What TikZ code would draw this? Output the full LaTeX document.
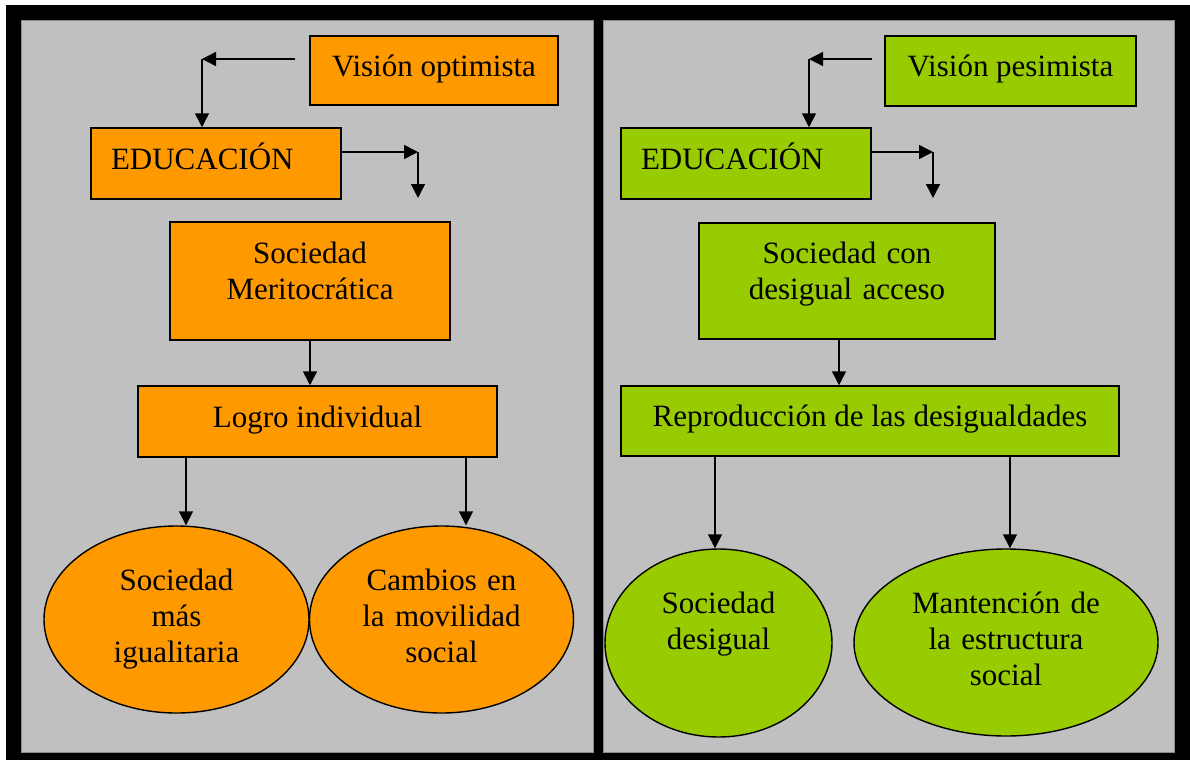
\documentclass[tikz,border=0pt]{standalone}
\usepackage{fontspec}
\setmainfont{Liberation Serif}
\usetikzlibrary{arrows.meta,shapes.geometric,calc}
\definecolor{orng}{HTML}{FF9900}
\definecolor{grn}{HTML}{99CC00}
\definecolor{panel}{HTML}{C0C0C0}
\definecolor{paneledge}{HTML}{8A8A8A}
\begin{document}
\begin{tikzpicture}[x=1pt,y=-1pt,
  every node/.style={font=\fontsize{31}{36}\selectfont, inner sep=0pt, text height=22pt},
  box/.style={draw=black, line width=1.5pt, rectangle},
  oval/.style={draw=black, line width=1.4pt, ellipse},
  arr/.style={draw=black, line width=1.5pt, -{Triangle[length=14pt,width=14pt]}},
  one/.style={text depth=11pt},
  lefttext/.style={inner xsep=20pt, text width=210pt, align=left}
]
\useasboundingbox (0,0) rectangle (1190,760);
\fill[white] (0,0) rectangle (1190,760);
\fill[black] (6,5) rectangle (1190,760);
\draw[paneledge, line width=0.8pt, fill=panel] (21,20) rectangle (593,752);
\draw[paneledge, line width=0.8pt, fill=panel] (603,20) rectangle (1174,752);

% ---------- left panel ----------
\node[box, fill=orng, one, minimum width=248pt, minimum height=69pt] (vo) at (434,70.5) {Visión optimista};
\node[box, fill=orng, one, lefttext, minimum height=71pt] (edu1) at (216,163.5) {EDUCACIÓN};
\node[box, fill=orng, text depth=58pt, text width=280pt, align=center, minimum height=118pt] (soc1) at (310,281) {Sociedad\\Meritocrática};
\node[box, fill=orng, one, minimum width=359pt, minimum height=71pt] (logro) at (317.5,421.5) {Logro individual};
\node[oval, fill=orng, text depth=81pt, text width=170pt, align=center, minimum width=265pt, minimum height=187pt] (e1) at (176.5,619.5) {Sociedad\\más\\igualitaria};
\node[oval, fill=orng, text depth=81pt, text width=170pt, align=center, minimum width=264pt, minimum height=187pt] (e2) at (441.5,619.5) {Cambios en\\la movilidad\\social};

\coordinate (l1s) at (295,59);
\coordinate (l1c) at (202,59);
\draw[arr] (l1s) -- (l1c);
\draw[arr] (l1c) -- (edu1.north -| l1c);
\coordinate (l2c) at (418,152);
\coordinate (l2e) at (418,198);
\draw[arr] (edu1.east |- l2c) -- (l2c);
\draw[arr] (l2c) -- (l2e);
\draw[arr] (soc1.south) -- (soc1.south |- logro.north);
\coordinate (l3x) at (186,0);
\coordinate (l4x) at (466,0);
\draw[arr] (logro.south -| l3x) -- (e1.north -| l3x);
\draw[arr] (logro.south -| l4x) -- (e2.north -| l4x);

% ---------- right panel ----------
\node[box, fill=grn, one, minimum width=251pt, minimum height=70pt] (vp) at (1010.5,71) {Visión pesimista};
\node[box, fill=grn, one, lefttext, minimum height=71pt] (edu2) at (746,163.5) {EDUCACIÓN};
\node[box, fill=grn, text depth=58pt, text width=296pt, align=center, minimum height=116pt] (soc2) at (847,281) {Sociedad con\\desigual acceso};
\node[box, fill=grn, one, minimum width=498pt, minimum height=70pt] (rep) at (870,421) {Reproducción de las desigualdades};
\node[oval, fill=grn, text depth=82pt, text width=150pt, align=center, minimum width=227pt, minimum height=188pt] (e3) at (718.5,643) {Sociedad\\desigual};
\node[oval, fill=grn, text depth=81pt, text width=210pt, align=center, minimum width=304pt, minimum height=187pt] (e4) at (1006,642.5) {Mantención de\\la estructura\\social};

\coordinate (r1s) at (871.5,59);
\coordinate (r1c) at (809,59);
\draw[arr] (r1s) -- (r1c);
\draw[arr] (r1c) -- (edu2.north -| r1c);
\coordinate (r2c) at (933,152);
\coordinate (r2e) at (933,198);
\draw[arr] (edu2.east |- r2c) -- (r2c);
\draw[arr] (r2c) -- (r2e);
\coordinate (r3x) at (839,0);
\draw[arr] (soc2.south -| r3x) -- (rep.north -| r3x);
\coordinate (r4x) at (715,0);
\coordinate (r5x) at (1010,0);
\draw[arr] (rep.south -| r4x) -- (e3.north -| r4x);
\draw[arr] (rep.south -| r5x) -- (e4.north -| r5x);
\end{tikzpicture}
\end{document}
